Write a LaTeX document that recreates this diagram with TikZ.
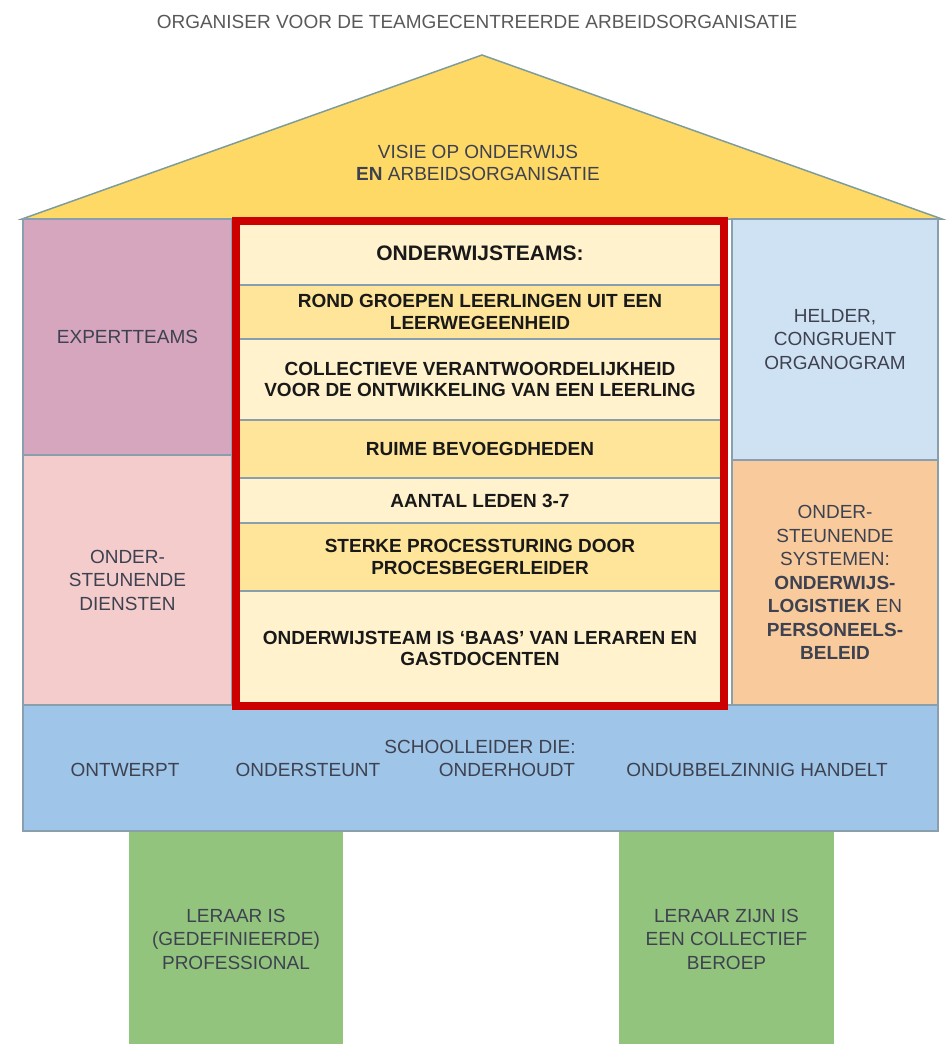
\documentclass[tikz,border=0pt]{standalone}
\usepackage{fontspec}
\setmainfont{Liberation Sans}
\usepackage{xcolor}
\usepackage{tikz}

\definecolor{dak}{HTML}{FFD966}
\definecolor{dakrand}{HTML}{7F9C9C}
\definecolor{paars}{HTML}{D5A6BD}
\definecolor{roze}{HTML}{F4CCCC}
\definecolor{lichtblauw}{HTML}{CFE2F3}
\definecolor{oranje}{HTML}{F9CB9C}
\definecolor{blauw}{HTML}{9FC5E8}
\definecolor{groen}{HTML}{93C47D}
\definecolor{creme}{HTML}{FFF2CC}
\definecolor{geel}{HTML}{FFE599}
\definecolor{rood}{HTML}{CC0000}
\definecolor{rand}{HTML}{8A9FAE}
\definecolor{tekst}{HTML}{3E4250}

\tikzset{
  vak/.style={draw=rand, line width=1.5pt, outer sep=0pt, inner sep=0pt, anchor=north west,
    align=center, text=tekst, font=\fontsize{19}{23.5}\selectfont},
  rij/.style={vak, minimum width=488pt, text=black!90, font=\bfseries\fontsize{19}{21.5}\selectfont},
  woord/.style={inner sep=0pt, align=center, text=tekst, font=\fontsize{19}{21.5}\selectfont}
}

\begin{document}
\begin{tikzpicture}[x=1pt,y=-1pt]
            \useasboundingbox (0,0) rectangle (946,1044);
            \node [woord, text=black!65] (titel) at (477,22) {ORGANISER VOOR DE TEAMGECENTREERDE ARBEIDSORGANISATIE};
            % dak
            \draw [draw=dakrand, fill=dak, line width=1.5pt] (22,219) -- (482,55) -- (942,219) -- cycle;
            \node [woord] (visie) at (478,163) {VISIE OP ONDERWIJS\\\textbf{EN} ARBEIDSORGANISATIE};
            % pijlers
            \node [vak, draw=groen, fill=groen, minimum width=212pt, minimum height=216pt] (pijler1) at (130,831) {LERAAR IS\\(GEDEFINIEERDE)\\PROFESSIONAL};
            \node [vak, draw=groen, fill=groen, minimum width=213pt, minimum height=216pt] (pijler2) at (620,831) {LERAAR ZIJN IS\\EEN COLLECTIEF\\BEROEP};
            % schoolleider
            \node [vak, fill=blauw, minimum width=915pt, minimum height=126pt] (leider) at (23,705) {};
            \node [woord] (die) at (480,747) {SCHOOLLEIDER DIE:};
            \node [woord] (ontwerpt) at (125,770) {ONTWERPT};
            \node [woord] (ondersteunt) at (308,770) {ONDERSTEUNT};
            \node [woord] (onderhoudt) at (507,770) {ONDERHOUDT};
            \node [woord] (handelt) at (757,770) {ONDUBBELZINNIG HANDELT};
            % zijkanten
            \node [vak, fill=paars, minimum width=209pt, minimum height=236pt] (experts) at (23,219) {EXPERTTEAMS};
            \node [vak, fill=roze, minimum width=209pt, minimum height=250pt] (diensten) at (23,455) {ONDER-\\STEUNENDE\\DIENSTEN};
            \node [vak, fill=lichtblauw, minimum width=206pt, minimum height=241pt] (organogram) at (732,219) {HELDER,\\CONGRUENT\\ORGANOGRAM};
            \node [vak, fill=oranje, minimum width=206pt, minimum height=245pt] (systemen) at (732,460) {ONDER-\\STEUNENDE\\SYSTEMEN:\\\textbf{ONDERWIJS-}\\\textbf{LOGISTIEK} EN\\\textbf{PERSONEELS-}\\\textbf{BELEID}};
            % onderwijsteams
            \node [rij, fill=creme, minimum height=64pt, font=\bfseries\fontsize{21}{24}\selectfont] (kop) at (236,221) {ONDERWIJSTEAMS:};
            \node [rij, fill=geel, minimum height=54pt] (groepen) at (236,285) {ROND GROEPEN LEERLINGEN UIT EEN\\LEERWEGEENHEID};
            \node [rij, fill=creme, minimum height=81pt] (collectief) at (236,339) {COLLECTIEVE VERANTWOORDELIJKHEID\\VOOR DE ONTWIKKELING VAN EEN LEERLING};
            \node [rij, fill=geel, minimum height=58pt] (bevoegd) at (236,420) {RUIME BEVOEGDHEDEN};
            \node [rij, fill=creme, minimum height=45pt] (leden) at (236,478) {AANTAL LEDEN 3-7};
            \node [rij, fill=geel, minimum height=68pt] (sturing) at (236,523) {STERKE PROCESSTURING DOOR\\PROCESBEGERLEIDER};
            \node [rij, fill=creme, minimum height=115pt] (baas) at (236,591) {ONDERWIJSTEAM IS `BAAS' VAN LERAREN EN\\GASTDOCENTEN};
            \draw [rood, line width=8pt] (kop.north west) rectangle (baas.south east);
        \end{tikzpicture}
\end{document}
